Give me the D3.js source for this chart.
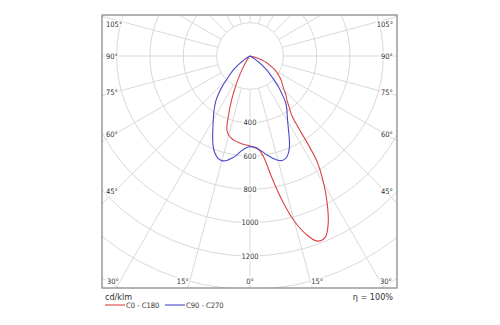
<!DOCTYPE html>
<html><head><meta charset="utf-8">
<script src="https://cdn.jsdelivr.net/npm/d3@7"></script>
<style>
body{margin:0;background:#fff}
svg{display:block}
text{font-family:"DejaVu Sans Condensed","DejaVu Sans",sans-serif;fill:#333}
</style>
</head><body>
<svg id="c" width="500" height="325"></svg>
<script>
// gamma angles (deg from nadir)
const gammaDeg = [0,2.5,5,7.5,10,12.5,15,17.5,20,22.5,25,27.5,30,32.5,35,37.5,40,42.5,45,47.5,50,52.5,55,57.5,60,62.5,65,67.5,70,72.5,75,77.5,80,82.5,85,87.5,90];
// C0 half-plane (right side, red)
const c0   = [540,547,560,605,730,885,1025,1122,1182,1178,1110,1005,885,745,440,385,345,320,290,268,250,235,215,197,178,155,130,110,90,65,40,20,8,3,0,0,0];
// C180 half-plane (left side, red)
const c180 = [540,535,530,524,517,507,492,462,375,292,215,148,98,62,38,18,8,2,0,0,0,0,0,0,0,0,0,0,0,0,0,0,0,0,0,0,0];
// C90 half-plane (right side, blue)
const c90  = [544,548,560,580,605,628,648,656,645,612,560,500,452,415,385,350,300,255,205,165,130,95,65,38,18,6,0,0,0,0,0,0,0,0,0,0,0];
// C270 half-plane (left side, blue)
const c270 = [544,552,570,598,622,642,650,642,618,580,530,482,440,405,370,335,290,245,195,160,130,95,65,38,18,6,0,0,0,0,0,0,0,0,0,0,0];

const ringValues = [200,400,600,800,1000,1200,1400,1600,1800];
const ringLabels = [400,600,800,1000,1200];
const spokeAngles = [0,15,30,45,60,75,90,105,120,135,150,165,180,195,210,225,240,255,270,285,300,315,330,345];
const sideLabelAngles = [45,60,75,90,105];
const bottomLabelAngles = [-30,-15,0,15,30];
const seriesNames = ["C0 - C180","C90 - C270"];
const seriesColors = ["#dc4444","#4848cc"];
const unitLabel = "cd/klm";
const effLabel = "\u03b7 = 100%";

const svg = d3.select("#c");
const box = {x0:102, y0:15, x1:397, y1:288};
const cx = 250, cy = 56;
const r = d3.scaleLinear().domain([0,1200]).range([0,200]);
const rad = d => d*Math.PI/180;

svg.append("defs").append("clipPath").attr("id","bx")
  .append("rect").attr("x",box.x0).attr("y",box.y0)
  .attr("width",box.x1-box.x0).attr("height",box.y1-box.y0);

const g = svg.append("g").attr("clip-path","url(#bx)");
const grid = "#d9d9d9";
g.selectAll("circle.ring").data(ringValues).join("circle")
  .attr("cx",cx).attr("cy",cy).attr("r",d=>r(d))
  .attr("fill","none").attr("stroke",grid).attr("stroke-width",1);
g.selectAll("line.spoke").data(spokeAngles).join("line")
  .attr("x1",d=>cx+r(200)*Math.sin(rad(d)))
  .attr("y1",d=>cy+r(200)*Math.cos(rad(d)))
  .attr("x2",d=>cx+r(3000)*Math.sin(rad(d)))
  .attr("y2",d=>cy+r(3000)*Math.cos(rad(d)))
  .attr("stroke",grid).attr("stroke-width",1);

// curves
function loop(right,left){
  const pts=[];
  for(let i=gammaDeg.length-1;i>=0;i--) pts.push([Math.PI-rad(gammaDeg[i]), r(right[i])]);
  for(let i=1;i<gammaDeg.length;i++) pts.push([Math.PI+rad(gammaDeg[i]), r(left[i])]);
  return pts;
}
const line = d3.lineRadial().angle(d=>d[0]).radius(d=>d[1]).curve(d3.curveCatmullRom.alpha(0.5));
const curves = [loop(c0,c180), loop(c90,c270)];
svg.append("g").attr("transform",`translate(${cx},${cy})`)
  .selectAll("path").data(curves).join("path")
  .attr("d",line).attr("fill","none")
  .attr("stroke",(d,i)=>seriesColors[i]).attr("stroke-width",1.1);

// ring labels
svg.selectAll("text.rl").data(ringLabels).join("text")
  .attr("x",cx).attr("y",d=>cy+r(d)).attr("dy","0.35em")
  .attr("text-anchor","middle").attr("font-size",7.5)
  .attr("stroke","#fff").attr("stroke-width",3).attr("paint-order","stroke")
  .text(d=>d);

// side angle labels
const sideY = a => Math.max(box.y0+9, cy + 135*Math.cos(rad(a))/Math.sin(rad(a)));
["L","R"].forEach(s=>{
  svg.selectAll("text.s"+s).data(sideLabelAngles).join("text")
    .attr("x", s==="L"? box.x0+4 : box.x1-4)
    .attr("y", d=>sideY(d)).attr("dy","0.35em")
    .attr("text-anchor", s==="L"?"start":"end").attr("font-size",7.5)
    .attr("stroke","#fff").attr("stroke-width",3).attr("paint-order","stroke")
    .text(d=>d+"\u00b0");
});
// bottom angle labels
svg.selectAll("text.b").data(bottomLabelAngles).join("text")
  .attr("x", d=>{
    let x = cx + (box.y1-cy)*Math.tan(rad(d)) + Math.sign(d)*5;
    return Math.min(box.x1-11, Math.max(box.x0+11, x));
  })
  .attr("y", box.y1-7).attr("dy","0.35em")
  .attr("text-anchor","middle").attr("font-size",7.5)
  .attr("stroke","#fff").attr("stroke-width",3).attr("paint-order","stroke")
  .text(d=>Math.abs(d)+"\u00b0");

// frame
svg.append("rect").attr("x",box.x0).attr("y",box.y0)
  .attr("width",box.x1-box.x0).attr("height",box.y1-box.y0)
  .attr("fill","none").attr("stroke","#8a8a8a").attr("stroke-width",1.3);

// legend
svg.append("text").attr("x",box.x0+3).attr("y",300).attr("font-size",9).text(unitLabel);
svg.append("text").attr("x",box.x1-4).attr("y",300).attr("text-anchor","end").attr("font-size",9).text(effLabel);
const lx = [105,165];
seriesNames.forEach((n,i)=>{
  svg.append("line").attr("x1",lx[i]).attr("x2",lx[i]+20).attr("y1",305).attr("y2",305)
    .attr("stroke",seriesColors[i]).attr("stroke-width",1.1);
  svg.append("text").attr("x",lx[i]+21).attr("y",308).attr("font-size",7.5).text(n);
});
</script>
</body></html>
